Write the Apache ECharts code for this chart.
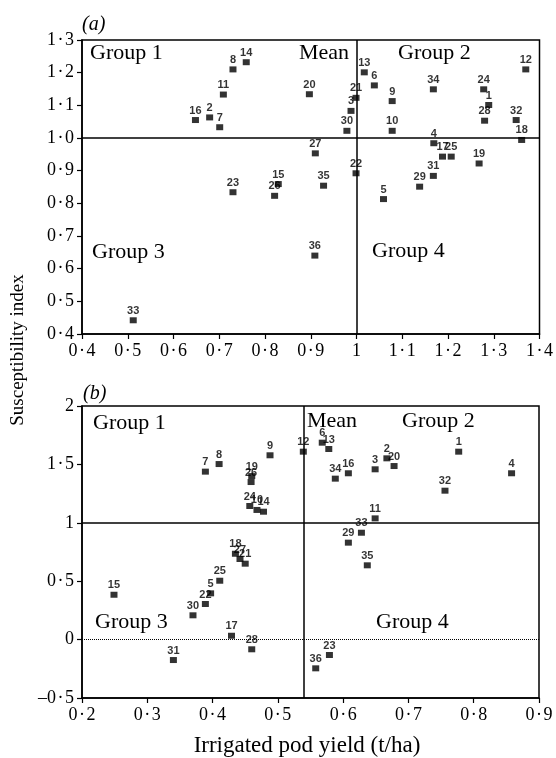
<!DOCTYPE html>
<html>
<head>
<meta charset="utf-8">
<script src="https://cdn.jsdelivr.net/npm/echarts@6/dist/echarts.min.js"></script>
<style>
  html, body { margin: 0; padding: 0; background: #fff; }
  #main { width: 556px; height: 758px; }
</style>
</head>
<body>
<div id="main"></div>
<script>
// genotype numbers, same order in both panels
var genotypes = [1, 2, 3, 4, 5, 6, 7, 8, 9, 10, 11, 12, 13, 14, 15, 16, 17, 18,
  19, 20, 21, 22, 23, 24, 25, 26, 27, 28, 29, 30, 31, 32, 33, 34, 35, 36];

// (a) irrigated pod yield / susceptibility index
var yieldA = [1.289, 0.679, 0.988, 1.169, 1.059, 1.039, 0.701, 0.730, 1.078, 1.078,
  0.709, 1.370, 1.017, 0.759, 0.829, 0.648, 1.188, 1.361, 1.268, 0.897, 0.999, 0.999,
  0.730, 1.278, 1.207, 0.821, 0.910, 1.280, 1.138, 0.979, 1.168, 1.349, 0.512, 1.168,
  0.928, 0.909];
var suscA = [1.101, 1.063, 1.083, 0.984, 0.813, 1.161, 1.033, 1.210, 1.113, 1.022,
  1.133, 1.210, 1.201, 1.232, 0.859, 1.055, 0.943, 0.994, 0.922, 1.134, 1.123, 0.892,
  0.834, 1.149, 0.943, 0.823, 0.953, 1.053, 0.851, 1.022, 0.884, 1.055, 0.442, 1.149,
  0.854, 0.640];

// (b)
var yieldB = [0.777, 0.667, 0.649, 0.858, 0.397, 0.568, 0.389, 0.410, 0.488, 0.468,
  0.649, 0.539, 0.578, 0.478, 0.249, 0.608, 0.429, 0.435, 0.460, 0.678, 0.450, 0.389,
  0.579, 0.457, 0.411, 0.459, 0.442, 0.460, 0.608, 0.370, 0.340, 0.756, 0.628, 0.588,
  0.637, 0.558];
var suscB = [1.609, 1.552, 1.458, 1.424, 0.396, 1.686, 1.438, 1.503, 1.578, 1.110,
  1.038, 1.609, 1.632, 1.095, 0.384, 1.424, 0.033, 0.735, 1.400, 1.486, 0.650, 0.305,
  -0.132, 1.144, 0.504, 1.349, 0.690, -0.083, 0.830, 0.208, -0.175, 1.275, 0.915, 1.378,
  0.636, -0.246];

var meanA = 1.0;
var meanB = 0.54;

var serif = 'Liberation Serif';
var dot = '\u200a\u00b7\u200a';

function fmt(v, keepDecimal) {
  var r = Math.round(v * 10) / 10;
  var s = (keepDecimal || r % 1 !== 0) ? r.toFixed(1) : String(r);
  return s.replace('.', dot).replace('-', '\u2013');
}

function pts(xs, ys) {
  return xs.map(function (x, i) { return [x, ys[i], genotypes[i]]; });
}

var axisCommon = {
  splitLine: { show: false },
  axisLine: { show: true, onZero: false, lineStyle: { color: '#000', width: 1.5 } },
  axisTick: { show: true, inside: false, length: 5, lineStyle: { color: '#000', width: 1.2 } },
  axisLabel: { color: '#000', fontFamily: serif, fontSize: 18 }
};

function axis(extra, fmtFn, margin) {
  var a = echarts.util.merge(echarts.util.clone(axisCommon), extra, true);
  a.axisLabel.formatter = fmtFn;
  a.axisLabel.margin = margin;
  return a;
}

var pointStyle = {
  type: 'scatter',
  symbol: 'rect',
  symbolSize: [7, 6],
  itemStyle: { color: '#000' },
  label: {
    show: true,
    position: 'top',
    distance: 1,
    formatter: function (p) { return p.value[2]; },
    color: '#000',
    fontFamily: 'Liberation Sans',
    fontWeight: 'bold',
    fontSize: 11
  },
  silent: true
};

function lines(data) {
  return {
    silent: true,
    symbol: 'none',
    animation: false,
    label: { show: false },
    lineStyle: { color: '#000', width: 1.5, type: 'solid' },
    data: data
  };
}

var myChart = echarts.init(document.getElementById('main'));

function txt(x, y, s, opt) {
  return {
    type: 'text', x: x, y: y, rotation: (opt && opt.rot) || 0,
    style: {
      text: s, fill: '#000', fontFamily: serif,
      fontSize: (opt && opt.size) || 22,
      fontStyle: (opt && opt.italic) ? 'italic' : 'normal',
      align: (opt && opt.align) || 'left', verticalAlign: 'middle'
    }
  };
}

var option = {
  animation: false,
  backgroundColor: '#fff',
  grid: [
    { left: 82, top: 40, width: 460, height: 294, show: true, borderColor: '#000', borderWidth: 1.5 },
    { left: 82, top: 406, width: 457, height: 292, show: true, borderColor: '#000', borderWidth: 1.5 }
  ],
  xAxis: [
    axis({ type: 'value', gridIndex: 0, min: 0.4, max: 1.4, interval: 0.1 },
      function (v) { return fmt(v, false); }, 8),
    axis({ type: 'value', gridIndex: 1, min: 0.2, max: 0.9, interval: 0.1 },
      function (v) { return fmt(v, true); }, 8)
  ],
  yAxis: [
    axis({ type: 'value', gridIndex: 0, min: 0.4, max: 1.3, interval: 0.1 },
      function (v) { return fmt(v, true); }, 8),
    axis({ type: 'value', gridIndex: 1, min: -0.5, max: 2, interval: 0.5 },
      function (v) { return fmt(v, false); }, 8)
  ],
  series: [
    echarts.util.merge({
      name: 'a', xAxisIndex: 0, yAxisIndex: 0,
      data: pts(yieldA, suscA),
      markLine: lines([{ xAxis: meanA }, { yAxis: 1 }])
    }, pointStyle),
    echarts.util.merge({
      name: 'b', xAxisIndex: 1, yAxisIndex: 1,
      data: pts(yieldB, suscB),
      markLine: lines([
        { xAxis: meanB },
        { yAxis: 1 },
        { yAxis: 0, lineStyle: { type: 'dotted', width: 1 } }
      ])
    }, pointStyle)
  ],
  graphic: [
    txt(82, 25, '(a)', { italic: true, size: 20 }),
    txt(83, 394, '(b)', { italic: true, size: 20 }),
    txt(90, 53, 'Group 1'),
    txt(299, 53, 'Mean'),
    txt(398, 53, 'Group 2'),
    txt(92, 252, 'Group 3'),
    txt(372, 251, 'Group 4'),
    txt(93, 423, 'Group 1'),
    txt(307, 421, 'Mean'),
    txt(402, 421, 'Group 2'),
    txt(95, 622, 'Group 3'),
    txt(376, 622, 'Group 4'),
    txt(18, 350, 'Susceptibility index', { rot: Math.PI / 2, align: 'center', size: 19 }),
    txt(307, 746, 'Irrigated pod yield (t/ha)', { align: 'center', size: 23 })
  ]
};

myChart.setOption(option);
</script>
</body>
</html>
